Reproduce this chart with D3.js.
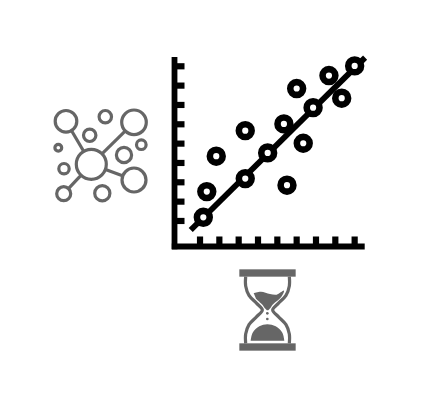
<!DOCTYPE html>
<html>
<head>
<meta charset="utf-8">
<script src="https://cdn.jsdelivr.net/npm/d3@7"></script>
<style>
  html, body { margin: 0; padding: 0; background: #fff; }
  svg { display: block; }
</style>
</head>
<body>
<div id="container"></div>
<script>
/* CONSTANTS AND GLOBALS */
const width = 421, height = 406;

/* DATA */
// scatter panel
const tickValues = [1, 2, 3, 4, 5, 6, 7, 8, 9];
const lineXs = [0.52, 9.54];
const lineYs = [0.53, 9.45];
const pointXs = [1.17, 3.34, 4.5, 6.85, 9.0, 1.35, 1.84, 3.34, 5.34, 6.0, 7.67, 8.33, 6.34, 5.5];
const pointYs = [1.19, 3.19, 4.52, 6.86, 9.02, 2.52, 4.35, 5.67, 6.02, 7.85, 8.52, 7.35, 5.02, 2.85];

// network icon, first node is the hub, the next four are linked to it
const nodeXs = [41.3, 16, 84, 84, 55.3, 39.7, 8.3, 91.3, 74, 14, 13.7, 52.3];
const nodeYs = [64.3, 21.3, 22.3, 80, 16.7, 35.3, 47.7, 44.7, 55, 68.7, 93.7, 93.3];
const nodeRs = [15, 10.8, 12.3, 12, 6.2, 6.2, 3.4, 4.8, 7.6, 5.2, 7, 7.6];
const linkedNodes = [1, 2, 3, 10];

// hourglass icon
const glassLeft = [[62, 50], [62, 78], [72, 106], [95, 130], [112, 150], [95, 170], [72, 194], [62, 222], [62, 250]];
const glassRight = glassLeft.map(d => [255 - d[0], d[1]]);
const sandTop = [[86, 99], [108, 95], [135, 102], [155, 104], [177, 92], [168, 112], [145, 132], [128, 151], [110, 132], [93, 116]];
const sandBottom = [[77, 242], [83, 218], [103, 199], [127, 193], [152, 199], [172, 218], [178, 242]];
const sandDots = [[127, 160, 4], [127, 177, 4]];
const bars = [[43, 28, 212, 50], [43, 250, 212, 272]];

/* SVG */
const svg = d3.select("#container")
  .append("svg")
  .attr("width", width)
  .attr("height", height);

/* SCALES */
const xScale = d3.scaleLinear().domain([-0.46, 9.52]).range([171.8, 364.7]);
const yScale = d3.scaleLinear().domain([-0.46, 9.48]).range([249.2, 57]);
const netX = d3.scaleLinear().domain([0, 100]).range([50, 150]);
const netY = d3.scaleLinear().domain([0, 100]).range([100, 200]);
const glassX = d3.scaleLinear().domain([0, 255]).range([225, 310]);
const glassY = d3.scaleLinear().domain([0, 300]).range([260, 360]);

/* NETWORK */
const net = svg.append("g")
  .attr("fill", "#fff")
  .attr("stroke", "#666")
  .attr("stroke-width", 3.2);

net.selectAll("line")
  .data(linkedNodes)
  .join("line")
  .attr("x1", netX(nodeXs[0]))
  .attr("y1", netY(nodeYs[0]))
  .attr("x2", d => netX(nodeXs[d]))
  .attr("y2", d => netY(nodeYs[d]));

net.selectAll("circle")
  .data(nodeXs)
  .join("circle")
  .attr("cx", d => netX(d))
  .attr("cy", (d, i) => netY(nodeYs[i]))
  .attr("r", (d, i) => nodeRs[i]);

/* AXES */
const xAxis = d3.axisBottom(xScale).tickValues(tickValues).tickSize(-10).tickSizeOuter(0).tickFormat("").offset(0);
const yAxis = d3.axisLeft(yScale).tickValues(tickValues).tickSize(-10).tickSizeOuter(0).tickFormat("").offset(0);

const xAxisGroup = svg.append("g")
  .attr("transform", `translate(0, ${yScale(-0.32)})`)
  .call(xAxis);
const yAxisGroup = svg.append("g")
  .attr("transform", `translate(${xScale(-0.32)}, 0)`)
  .call(yAxis);

[xAxisGroup, yAxisGroup].forEach(g => {
  g.select(".domain").attr("stroke", "#000").attr("stroke-width", 5.8);
  g.selectAll(".tick line").attr("stroke", "#000").attr("stroke-width", 6.2);
});

/* TREND LINE AND POINTS */
svg.append("line")
  .attr("x1", xScale(lineXs[0]))
  .attr("y1", yScale(lineYs[0]))
  .attr("x2", xScale(lineXs[1]))
  .attr("y2", yScale(lineYs[1]))
  .attr("stroke", "#000")
  .attr("stroke-width", 5.8);

svg.append("g")
  .selectAll("circle")
  .data(pointXs)
  .join("circle")
  .attr("cx", d => xScale(d))
  .attr("cy", (d, i) => yScale(pointYs[i]))
  .attr("r", 6.4)
  .attr("fill", "#fff")
  .attr("stroke", "#000")
  .attr("stroke-width", 6.6);

/* HOURGLASS */
const glass = svg.append("g");
const curved = d3.line()
  .x(d => glassX(d[0]))
  .y(d => glassY(d[1]))
  .curve(d3.curveCatmullRom);

glass.selectAll("path.wall")
  .data([glassLeft, glassRight])
  .join("path")
  .attr("class", "wall")
  .attr("d", curved)
  .attr("fill", "none")
  .attr("stroke", "#666")
  .attr("stroke-width", 3.2);

glass.selectAll("path.sand")
  .data([sandTop, sandBottom])
  .join("path")
  .attr("class", "sand")
  .attr("d", d => curved(d) + "Z")
  .attr("fill", "#666");

glass.selectAll("circle")
  .data(sandDots)
  .join("circle")
  .attr("cx", d => glassX(d[0]))
  .attr("cy", d => glassY(d[1]))
  .attr("r", d => d[2] / 3)
  .attr("fill", "#666");

glass.selectAll("rect")
  .data(bars)
  .join("rect")
  .attr("x", d => glassX(d[0]))
  .attr("y", d => glassY(d[1]))
  .attr("width", d => glassX(d[2]) - glassX(d[0]))
  .attr("height", d => glassY(d[3]) - glassY(d[1]))
  .attr("fill", "#666");
</script>
</body>
</html>
